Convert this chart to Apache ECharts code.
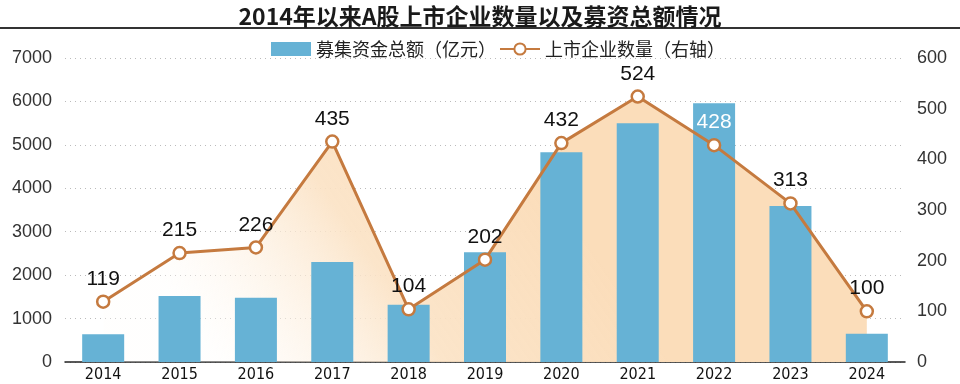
<!DOCTYPE html>
<html><head><meta charset="utf-8">
<script src="https://cdn.jsdelivr.net/npm/echarts@6/dist/echarts.min.js"></script>
<style>html,body{margin:0;padding:0;background:#fff}#c{width:960px;height:384px}</style>
</head><body><div id="c"></div>
<script>
var years = ['2014','2015','2016','2017','2018','2019','2020','2021','2022','2023','2024'];
var funds = [640, 1520, 1480, 2300, 1320, 2530, 4830, 5500, 5960, 3590, 650];
var counts = [119, 215, 226, 435, 104, 202, 432, 524, 428, 313, 100];
var leftTicks = [0, 7000, 1000];
var rightTicks = [0, 600, 100];

var chart = echarts.init(document.getElementById('c'));
var cjk = '"Noto Sans CJK SC", "Liberation Sans", sans-serif';
chart.setOption({
  animation: false,
  title: {
    text: '2014年以来A股上市企业数量以及募资总额情况',
    left: 'center', top: 0,
    textStyle: {fontFamily: cjk, fontSize: 23, fontWeight: 'bold', color: '#1a1a1a'}
  },
  graphic: [{type: 'rect', shape: {x: 0, y: 27, width: 960, height: 2}, style: {fill: '#333'}}],
  legend: {
    top: 35, left: 266, itemGap: 3,
    textStyle: {fontFamily: cjk, fontSize: 18, color: '#222'},
    data: [
      {name: '募集资金总额（亿元）', icon: 'rect', itemWidth: 30, itemHeight: 15},
      {name: '上市企业数量（右轴）'}
    ],
    itemWidth: 40, itemHeight: 14
  },
  grid: {left: 65, right: 55, top: 58, bottom: 22},
  xAxis: {
    type: 'category', data: years,
    axisLine: {lineStyle: {color: '#222', width: 1.5}},
    axisTick: {show: false},
    axisLabel: {fontFamily: '"Liberation Sans Narrow", "DejaVu Sans Condensed", sans-serif', fontSize: 16, color: '#111', margin: 5}
  },
  yAxis: [{
    type: 'value', min: leftTicks[0], max: leftTicks[1], interval: leftTicks[2],
    axisLine: {show: false}, axisTick: {show: false},
    axisLabel: {fontFamily: '"Liberation Sans", sans-serif', fontSize: 18, color: '#333', margin: 13,
      formatter: function(v){ return String(v); }},
    splitLine: {lineStyle: {color: '#bbb', type: [1, 4], width: 1}}
  }, {
    type: 'value', min: rightTicks[0], max: rightTicks[1], interval: rightTicks[2],
    axisLine: {show: false}, axisTick: {show: false},
    axisLabel: {fontFamily: '"Liberation Sans", sans-serif', fontSize: 18, color: '#333', margin: 12,
      formatter: function(v){ return String(v); }},
    splitLine: {show: false}
  }],
  series: [{
    name: 'area', type: 'line', yAxisIndex: 1, data: counts,
    symbol: 'none', lineStyle: {width: 0}, silent: true,
    areaStyle: {
      origin: 'start',
      color: new echarts.graphic.LinearGradient(0.15, 1, 0.55, 0.2, [
        {offset: 0, color: 'rgba(255,253,250,0.3)'},
        {offset: 0.5, color: 'rgba(251,226,196,0.9)'},
        {offset: 1, color: 'rgba(251,221,186,1)'}
      ]),
      opacity: 1
    },
    z: 1
  }, {
    name: '募集资金总额（亿元）', type: 'bar', data: funds, barWidth: 42,
    itemStyle: {color: '#66b2d5'}, z: 2
  }, {
    name: '上市企业数量（右轴）', type: 'line', yAxisIndex: 1, data: counts.map(function(v, i){
      return i === 8 ? {value: v, label: {color: '#fff'}} : v;
    }),
    symbol: 'circle', symbolSize: 12,
    lineStyle: {color: '#c57a3f', width: 3},
    itemStyle: {color: '#fff', borderColor: '#c57a3f', borderWidth: 2.5},
    label: {show: true, position: 'top', distance: 5, fontFamily: '"Liberation Sans", sans-serif', fontSize: 21, color: '#111'},
    z: 3
  }]
});
</script></body></html>
